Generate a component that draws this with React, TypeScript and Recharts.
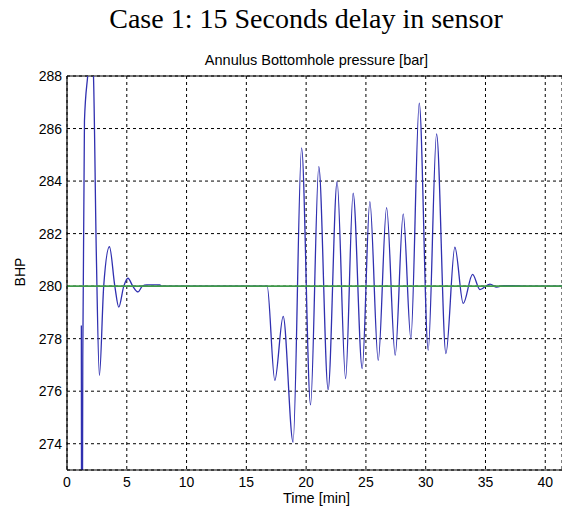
import React from "react";
import {
  LineChart, Line, XAxis, YAxis, CartesianGrid, ReferenceLine,
} from "recharts";

// time [min] and annulus bottomhole pressure [bar]
const timeMin = [
  1.2, 1.24, 1.32, 1.46, 1.73, 1.98, 2.2, 2.45, 2.71, 3.07, 3.55, 4.0, 4.33,
  4.75, 5.1, 5.5, 5.94, 6.3, 6.67, 7.76, 7.9, 16.74, 17.38, 18.08, 18.91,
  19.62, 20.37, 21.06, 21.84, 22.59, 23.3, 23.93, 24.69, 25.33, 26.03, 26.73,
  27.45, 28.12, 28.76, 29.46, 30.21, 30.91, 31.69, 32.44, 33.14, 33.92, 34.54,
  35.37, 35.93, 36.5, 37.3, 38.5, 41.4,
];
const bhpBar = [
  278.5, 262, 277.3, 286.3, 288, 289.2, 288.2, 281.3, 276.6, 280, 281.5, 280,
  279.2, 280, 280.3, 280, 279.78, 280, 280.05, 280.05, 280, 280, 276.41,
  278.85, 274.06, 285.26, 275.48, 284.55, 276.06, 283.98, 276.48, 283.54,
  276.86, 283.22, 277.18, 282.99, 277.37, 282.75, 278.0, 286.97, 277.56, 285.8,
  277.43, 281.48, 279.34, 280.45, 279.87, 280.08, 279.96, 280.02, 280.02, 280,
  280,
];
const setpointBar = 280;
const xTicks = [0, 5, 10, 15, 20, 25, 30, 35, 40];
const yTicks = [274, 276, 278, 280, 282, 284, 286, 288];

const data = timeMin.map((t, i) => ({ t, bhp: bhpBar[i] }));
const setpointData = [
  { t: 0, sp: setpointBar },
  { t: 41.4, sp: setpointBar },
];

const sans = "Liberation Sans, Arial, sans-serif";
const axisFont = { fill: "#000", fontSize: 14, fontFamily: sans };

export default function App() {
  return (
    <div style={{ position: "absolute", left: 0, top: 0, width: 562, height: 511, background: "#fff" }}>
      <div
        style={{
          position: "absolute", left: 0, top: 3, width: 612, textAlign: "center",
          fontFamily: "Liberation Serif, serif", fontSize: 28, color: "#000",
        }}
      >
        Case 1: 15 Seconds delay in sensor
      </div>
      <div
        style={{
          position: "absolute", left: 67, top: 52, width: 499, textAlign: "center",
          fontFamily: sans, fontSize: 14.5, color: "#000",
        }}
      >
        Annulus Bottomhole pressure [bar]
      </div>
      <div
        style={{
          position: "absolute", left: 0, top: 264, width: 40, textAlign: "center",
          transform: "rotate(-90deg)",
          fontFamily: sans, fontSize: 14, color: "#000",
        }}
      >
        BHP
      </div>
      <div
        style={{
          position: "absolute", left: 67, top: 490, width: 499, textAlign: "center",
          fontFamily: sans, fontSize: 14.5, color: "#000",
        }}
      >
        Time [min]
      </div>
      <LineChart
        width={562}
        height={511}
        margin={{ top: 76, right: 0, left: 0, bottom: 0 }}
        data={data}
      >
        <CartesianGrid stroke="#000" strokeDasharray="3 3" strokeWidth={1} />
        <XAxis
          dataKey="t"
          type="number"
          domain={[0, 41.4]}
          ticks={xTicks}
          allowDataOverflow
          height={41}
          tickSize={0}
          tickMargin={7}
          axisLine={{ stroke: "#000", strokeWidth: 1.2 }}
          tick={axisFont}
        />
        <YAxis
          type="number"
          domain={[273, 288]}
          ticks={yTicks}
          allowDataOverflow
          width={67}
          tickSize={0}
          tickMargin={5}
          axisLine={{ stroke: "#000", strokeWidth: 1.2 }}
          tick={axisFont}
        />
        <ReferenceLine y={288} stroke="#000" strokeWidth={1.2} />
        <Line
          dataKey="bhp"
          type="monotone"
          stroke="#3030b0"
          strokeWidth={1.3}
          dot={false}
          isAnimationActive={false}
        />
        <Line
          data={setpointData}
          dataKey="sp"
          type="linear"
          stroke="#3f9a4a"
          strokeWidth={1.6}
          dot={false}
          isAnimationActive={false}
        />
      </LineChart>
    </div>
  );
}
